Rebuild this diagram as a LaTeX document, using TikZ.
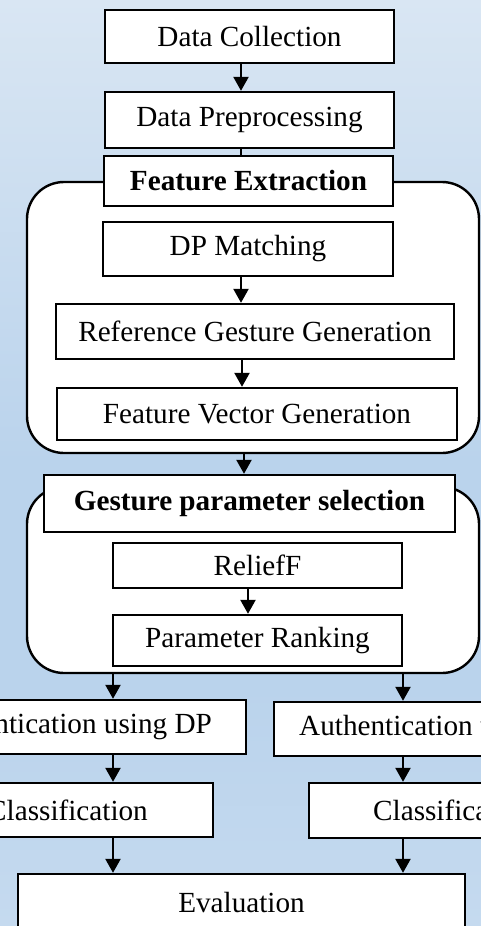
\documentclass[tikz,border=0pt]{standalone}
\usepackage{fontspec}
\setmainfont{Liberation Serif}
\usetikzlibrary{arrows.meta}
\definecolor{bgtop}{HTML}{D9E6F3}
\definecolor{bgmid}{HTML}{BAD3EC}
\definecolor{bgbot}{HTML}{C5DAEF}
\pgfdeclareverticalshading{bgshade}{100bp}{color(0bp)=(bgbot); color(25bp)=(bgbot); color(38bp)=(bgmid); color(50bp)=(bgmid); color(75bp)=(bgtop); color(100bp)=(bgtop)}
\tikzset{
  box/.style={draw, fill=white, line width=1.2pt, inner sep=0pt, font=\fontsize{14.6}{17}\selectfont},
  titlebox/.style={box, font=\fontsize{14.6}{17}\selectfont\bfseries},
  container/.style={draw, fill=white, line width=1.2pt, rounded corners=18.5pt, inner sep=0pt},
  arr/.style={line width=1.2pt, -{Triangle[length=7pt,width=7.5pt]}},
  plain/.style={line width=1.2pt}
}
\begin{document}
\begin{tikzpicture}[x=0.5pt,y=-0.5pt]
\path[use as bounding box] (0,0) rectangle (481,926);
\clip (0,0) rectangle (481,926);
\fill[shading=bgshade] (0,0) rectangle (481,926);

% containers
\node[container, minimum width=226pt, minimum height=135.5pt] (c1) at (253,317.5) {};
\node[container, minimum width=226pt, minimum height=93pt] (c2) at (253,580) {};

% top boxes
\node[box, minimum width=144.5pt, minimum height=26.5pt] (dc) at (249.5,36.5) {Data Collection};
\node[box, minimum width=144.5pt, minimum height=28pt] (dp) at (249.5,120) {Data Preprocessing};
\node[titlebox, minimum width=144.5pt, minimum height=25pt] (fe) at (248.5,181) {Feature Extraction};
\node[box, minimum width=145pt, minimum height=27pt] (dpm) at (248,249) {DP Matching};
\node[box, minimum width=199pt, minimum height=27.5pt] (rgg) at (255,331.5) {Reference Gesture Generation};
\node[box, minimum width=200pt, minimum height=26pt] (fvg) at (257,414) {Feature Vector Generation};

\node[titlebox, minimum width=205.5pt, minimum height=28.5pt] (gps) at (249.5,503.5) {Gesture parameter selection};
\node[box, minimum width=144.5pt, minimum height=22.5pt] (rf) at (257.5,565.5) {ReliefF};
\node[box, minimum width=144.5pt, minimum height=25.5pt] (pr) at (257.5,640.5) {Parameter Ranking};

% branches
\node[box, anchor=east, inner xsep=17pt, minimum height=27pt] (al) at (247,727) {Authentication using DP};
\node[box, anchor=west, inner xsep=12.5pt, minimum height=27pt] (ar) at (273,729) {Authentication using ML};
\node[box, anchor=east, inner xsep=32.5pt, minimum height=27pt] (cl) at (214,810) {Classification};
\node[box, anchor=west, inner xsep=32pt, minimum height=27.5pt] (cr) at (308,810.5) {Classification};
\node[box, minimum width=223.5pt, minimum height=29pt] (ev) at (241.5,903) {Evaluation};

% connectors
\draw[arr] (dc.south -| 241,0) -- (dp.north -| 241,0);
\draw[plain] (dp.south -| 241,0) -- (fe.north -| 241,0);
\draw[arr] (dpm.south -| 241,0) -- (rgg.north -| 241,0);
\draw[arr] (rgg.south -| 242,0) -- (fvg.north -| 242,0);
\draw[arr] (c1.south -| 244,0) -- (gps.north -| 244,0);
\draw[arr] (rf.south -| 248,0) -- (pr.north -| 248,0);
\draw[arr] (c2.south -| 113,0) -- (al.north -| 113,0);
\draw[arr] (c2.south -| 403,0) -- (ar.north -| 403,0);
\draw[arr] (al.south -| 113,0) -- (cl.north -| 113,0);
\draw[arr] (ar.south -| 403,0) -- (cr.north -| 403,0);
\draw[arr] (cl.south -| 113,0) -- (ev.north -| 113,0);
\draw[arr] (cr.south -| 403,0) -- (ev.north -| 403,0);
\end{tikzpicture}
\end{document}
